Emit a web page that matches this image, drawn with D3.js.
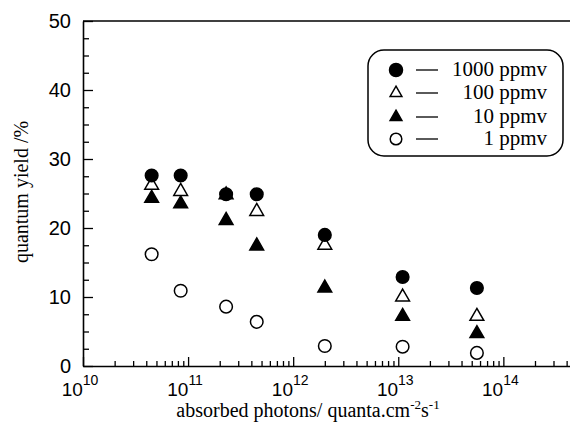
<!DOCTYPE html>
<html lang="en">
<head>
<meta charset="utf-8">
<script src="https://d3js.org/d3.v7.min.js"></script>
<style>
  body { margin: 0; background: #fff; }
  svg { display: block; }
</style>
</head>
<body>
<svg id="chart" width="570" height="430"></svg>
<script>
// absorbed photons (quanta cm-2 s-1) for each measurement column
const photons = [4.5e10, 8.5e10, 2.3e11, 4.5e11, 2.0e12, 1.1e13, 5.6e13];
// quantum yield (%) per concentration
const yield1000 = [27.6, 27.6, 24.9, 24.9, 19.0, 12.9, 11.3];
const yield100  = [26.2, 25.3, 24.8, 22.4, 17.5, 10.0, 7.2];
const yield10   = [24.3, 23.5, 21.1, 17.4, 11.3, 7.2, 4.7];
const yield1    = [16.2, 10.9, 8.6, 6.4, 2.9, 2.8, 1.9];

const yTicks = [0, 10, 20, 30, 40, 50];
const xTicks = [1e10, 1e11, 1e12, 1e13, 1e14];
const legendLabels = ["1000 ppmv", "100 ppmv", "10 ppmv", "1 ppmv"];

const svg = d3.select("#chart");
const sans = "'Liberation Sans', Arial, sans-serif";
const serif = "'Liberation Serif', 'Times New Roman', serif";

const x = d3.scaleLog().domain([1e10, 4.5e14]).range([83, 572]);
const y = d3.scaleLinear().domain([0, 50]).range([366, 21]);

// top frame line
svg.append("line")
  .attr("x1", 83).attr("x2", 570)
  .attr("y1", y(50)).attr("y2", y(50))
  .attr("stroke", "#000").attr("stroke-width", 1.5);

// x axis: minor ticks
const xMinor = [];
for (let e = 10; e <= 14; e++) {
  for (let m = 2; m <= 9; m++) {
    const v = m * Math.pow(10, e);
    if (v <= 4.5e14) xMinor.push(v);
  }
}
svg.append("g")
  .attr("transform", `translate(0,${y(0)})`)
  .call(d3.axisBottom(x).tickValues(xMinor).tickSizeInner(-5).tickSizeOuter(0).tickFormat(""))
  .call(g => g.selectAll("line").attr("stroke-width", 1.3))
  .call(g => g.select(".domain").attr("stroke-width", 1.6));
svg.append("g")
  .attr("transform", `translate(0,${y(0)})`)
  .call(d3.axisBottom(x).tickValues(xTicks).tickSizeInner(-9).tickSizeOuter(0).tickFormat(""))
  .call(g => g.selectAll("line").attr("stroke-width", 1.3))
  .call(g => g.select(".domain").remove());

// x tick labels with superscript exponents
const xl = svg.append("g").selectAll("text")
  .data(xTicks)
  .join("text")
    .attr("x", d => x(d) - 3)
    .attr("y", 396)
    .attr("text-anchor", "middle")
    .style("font-family", sans)
    .style("font-size", "19px");
xl.append("tspan").text("10");
xl.append("tspan")
  .attr("dy", -11)
  .style("font-size", "14px")
  .text(d => Math.round(Math.log10(d)));

// y axis
const yMinor = d3.range(0, 50.1, 2.5).filter(v => v % 10 !== 0);
svg.append("g")
  .attr("transform", `translate(${x(1e10)},0)`)
  .call(d3.axisLeft(y).tickValues(yMinor).tickSizeInner(-6).tickSizeOuter(0).tickFormat(""))
  .call(g => g.selectAll("line").attr("stroke-width", 1.3))
  .call(g => g.select(".domain").attr("stroke-width", 1.6));
svg.append("g")
  .attr("transform", `translate(${x(1e10)},0)`)
  .call(d3.axisLeft(y).tickValues(yTicks).tickSizeInner(-10).tickSizeOuter(0).tickPadding(12))
  .call(g => g.selectAll("line").attr("stroke-width", 1.3))
  .call(g => g.select(".domain").remove())
  .call(g => g.selectAll("text")
    .style("font-family", sans)
    .style("font-size", "20px")
    .attr("fill", "#000"));

// axis titles
svg.append("text")
  .attr("transform", "translate(28,192) rotate(-90)")
  .attr("text-anchor", "middle")
  .style("font-family", serif)
  .style("font-size", "20px")
  .text("quantum yield /%");

const xt = svg.append("text")
  .attr("x", 308).attr("y", 417)
  .attr("text-anchor", "middle")
  .style("font-family", serif)
  .style("font-size", "20px");
xt.append("tspan").text("absorbed photons/ quanta.cm");
xt.append("tspan").attr("dy", -8).style("font-size", "13px").text("-2");
xt.append("tspan").attr("dy", 8).text("s");
xt.append("tspan").attr("dy", -8).style("font-size", "13px").text("-1");

// markers
const tri = d3.symbol().type(d3.symbolTriangle).size(82);
function drawCircles(vals, filled) {
  svg.append("g").selectAll("circle")
    .data(vals)
    .join("circle")
      .attr("cx", (d, i) => x(photons[i]))
      .attr("cy", d => y(d))
      .attr("r", 6.3)
      .attr("fill", filled ? "#000" : "#fff")
      .attr("stroke", "#000")
      .attr("stroke-width", 1.5);
}
function drawTriangles(vals, filled) {
  svg.append("g").selectAll("path")
    .data(vals)
    .join("path")
      .attr("transform", (d, i) => `translate(${x(photons[i])},${y(d)})`)
      .attr("d", tri)
      .attr("fill", filled ? "#000" : "#fff")
      .attr("stroke", "#000")
      .attr("stroke-width", 1.5);
}
drawCircles(yield1, false);
drawTriangles(yield10, true);
drawTriangles(yield100, false);
drawCircles(yield1000, true);

// legend
const legend = svg.append("g");
legend.append("rect")
  .attr("x", 368).attr("y", 50)
  .attr("width", 195).attr("height", 106)
  .attr("rx", 16)
  .attr("fill", "#fff")
  .attr("stroke", "#000")
  .attr("stroke-width", 1.5);
const rowY = [70, 93, 117, 139];
const legendMarks = [
  { shape: "circle", filled: true },
  { shape: "triangle", filled: false },
  { shape: "triangle", filled: true },
  { shape: "circle", filled: false }
];
legendMarks.forEach((m, i) => {
  if (m.shape === "circle") {
    legend.append("circle")
      .attr("cx", 396).attr("cy", rowY[i]).attr("r", m.filled ? 6.5 : 5.8)
      .attr("fill", m.filled ? "#000" : "#fff")
      .attr("stroke", "#000").attr("stroke-width", 1.5);
  } else {
    legend.append("path")
      .attr("transform", `translate(396,${rowY[i]})`)
      .attr("d", d3.symbol().type(d3.symbolTriangle).size(60))
      .attr("fill", m.filled ? "#000" : "#fff")
      .attr("stroke", "#000").attr("stroke-width", 1.5);
  }
  legend.append("line")
    .attr("x1", 416).attr("x2", 438)
    .attr("y1", rowY[i]).attr("y2", rowY[i])
    .attr("stroke", "#000").attr("stroke-width", 1.3);
  legend.append("text")
    .attr("x", 547).attr("y", rowY[i] + 6)
    .attr("text-anchor", "end")
    .style("font-family", serif)
    .style("font-size", "21px")
    .text(legendLabels[i]);
});
</script>
</body>
</html>
